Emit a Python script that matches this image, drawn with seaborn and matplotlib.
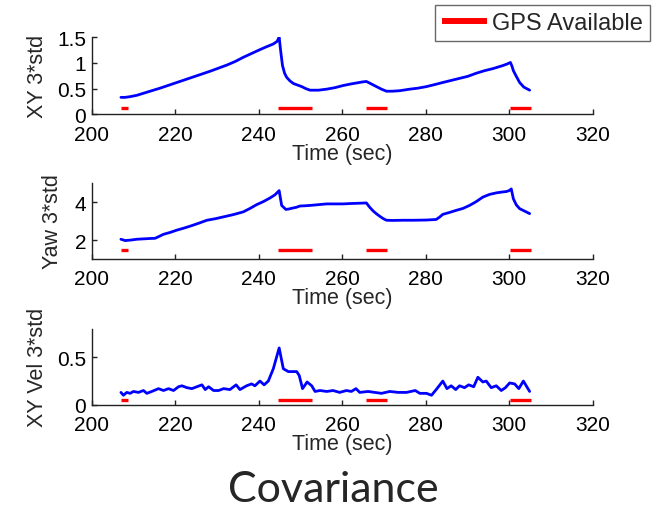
import numpy as np
import pandas as pd
import matplotlib
matplotlib.use("Agg")
import matplotlib.pyplot as plt
import seaborn as sns

# XY position uncertainty (3-sigma) over time
xy_time = [207.0, 208.0, 209.2, 210.8, 212.4, 214.4, 216.4, 218.4, 220.4, 222.4,
           224.4, 226.4, 228.4, 230.4, 232.4, 234.4, 236.3, 238.3, 240.3, 242.0,
           243.5, 244.4, 244.9, 245.3, 245.7, 246.2, 246.7, 247.5, 248.3, 249.3,
           250.3, 251.3, 252.3, 254.3, 256.3, 258.3, 260.2, 262.0, 263.4, 264.8,
           265.8, 267.0, 268.2, 269.4, 270.6, 272.0, 273.8, 276.2, 278.2, 280.2,
           282.2, 284.1, 286.1, 288.1, 290.1, 292.1, 294.1, 296.1, 297.3, 298.5,
           299.5, 300.3, 300.7, 301.0, 301.7, 302.5, 303.5, 304.9]
xy_std = [0.33, 0.33, 0.344, 0.37, 0.41, 0.46, 0.51, 0.565, 0.62, 0.675,
          0.73, 0.785, 0.84, 0.90, 0.96, 1.03, 1.11, 1.185, 1.26, 1.32,
          1.37, 1.42, 1.50, 1.21, 0.95, 0.80, 0.72, 0.65, 0.60, 0.57,
          0.54, 0.50, 0.47, 0.47, 0.49, 0.52, 0.56, 0.59, 0.61, 0.63,
          0.64, 0.59, 0.54, 0.49, 0.45, 0.45, 0.46, 0.49, 0.51, 0.54,
          0.58, 0.62, 0.66, 0.70, 0.74, 0.80, 0.85, 0.89, 0.92, 0.95,
          0.98, 1.01, 0.93, 0.85, 0.74, 0.62, 0.53, 0.47]

# Yaw uncertainty (3-sigma) over time
yaw_time = [207.0, 208.0, 209.5, 210.8, 212.5, 214.0, 215.2, 217.2, 218.8, 220.4,
            222.0, 223.6, 225.6, 227.6, 229.6, 231.6, 233.8, 236.3, 237.9, 239.5,
            241.1, 242.7, 243.9, 244.9, 245.5, 246.5, 247.2, 247.9, 249.0, 249.9,
            251.0, 252.3, 254.3, 256.3, 258.3, 260.2, 262.0, 263.4, 265.8, 266.6,
            267.4, 268.2, 269.0, 269.8, 270.6, 272.0, 274.6, 277.0, 280.0, 282.5,
            283.3, 284.1, 285.7, 287.3, 288.9, 290.5, 292.1, 293.7, 295.3, 296.9,
            298.1, 299.3, 300.0, 300.5, 301.0, 301.7, 302.5, 303.7, 304.9]
yaw_std = [2.04, 1.97, 2.00, 2.04, 2.06, 2.08, 2.09, 2.30, 2.40, 2.52,
           2.62, 2.73, 2.88, 3.04, 3.12, 3.22, 3.33, 3.48, 3.66, 3.86,
           4.02, 4.21, 4.38, 4.60, 3.82, 3.61, 3.63, 3.67, 3.72, 3.79,
           3.80, 3.82, 3.86, 3.90, 3.90, 3.90, 3.92, 3.93, 3.95, 3.72,
           3.53, 3.38, 3.25, 3.13, 3.04, 3.03, 3.04, 3.04, 3.05, 3.08,
           3.20, 3.35, 3.45, 3.56, 3.66, 3.82, 4.02, 4.26, 4.40, 4.48,
           4.52, 4.55, 4.60, 4.69, 4.17, 3.85, 3.65, 3.52, 3.39]

# XY velocity uncertainty (3-sigma) over time
vel_time = [207.0, 207.6, 208.4, 209.2, 210.0, 211.2, 212.4, 213.2, 214.4, 216.0,
            217.2, 218.4, 219.6, 220.8, 221.6, 222.8, 224.0, 225.2, 226.4, 227.2,
            228.0, 229.2, 230.4, 231.6, 233.1, 234.6, 235.5, 237.1, 238.3, 239.1,
            240.3, 241.3, 242.3, 243.5, 244.9, 245.9, 247.1, 249.1, 249.7, 250.5,
            251.6, 252.7, 253.5, 254.7, 256.3, 257.8, 259.4, 261.0, 262.2, 263.3,
            264.2, 266.2, 267.8, 269.4, 271.4, 273.4, 275.4, 277.5, 278.6, 280.2,
            281.4, 282.7, 284.1, 285.1, 286.1, 287.2, 288.1, 289.3, 290.3, 291.5,
            292.5, 293.7, 294.5, 295.7, 296.9, 298.1, 299.1, 300.1, 301.3, 302.3,
            303.4, 304.9]
vel_std = [0.13, 0.10, 0.13, 0.12, 0.14, 0.13, 0.15, 0.12, 0.14, 0.17,
           0.15, 0.17, 0.15, 0.19, 0.20, 0.18, 0.17, 0.19, 0.21, 0.16,
           0.19, 0.15, 0.15, 0.17, 0.16, 0.21, 0.16, 0.20, 0.22, 0.20,
           0.25, 0.21, 0.25, 0.38, 0.60, 0.38, 0.35, 0.35, 0.31, 0.17,
           0.24, 0.20, 0.14, 0.15, 0.14, 0.15, 0.13, 0.15, 0.14, 0.17,
           0.13, 0.14, 0.13, 0.12, 0.14, 0.13, 0.13, 0.15, 0.12, 0.12,
           0.10, 0.17, 0.25, 0.17, 0.20, 0.16, 0.20, 0.18, 0.21, 0.19,
           0.29, 0.24, 0.25, 0.18, 0.20, 0.15, 0.18, 0.23, 0.22, 0.17,
           0.25, 0.14]

# Intervals with a GPS fix
gps_start = [206.9, 244.7, 265.8, 300.1]
gps_end = [208.8, 252.7, 270.8, 305.2]

panels = [
    dict(t=xy_time, v=xy_std, label="XY 3*std", ylim=(0, 1.5),
         yticks=[0, 0.5, 1, 1.5], yticklabels=["0", "0.5", "1", "1.5"],
         gps_level=0.12, rect=[0.1381, 0.7739, 0.7545, 0.1510], ylab_x=-0.087),
    dict(t=yaw_time, v=yaw_std, label="Yaw 3*std", ylim=(1, 5),
         yticks=[2, 4], yticklabels=["2", "4"],
         gps_level=1.45, rect=[0.1381, 0.4902, 0.7545, 0.1490], ylab_x=-0.058),
    dict(t=vel_time, v=vel_std, label="XY Vel 3*std", ylim=(0, 0.8),
         yticks=[0, 0.5], yticklabels=["0", "0.5"],
         gps_level=0.05, rect=[0.1381, 0.2045, 0.7545, 0.1484], ylab_x=-0.087),
]

sns.set_style("ticks")
plt.rcParams["font.family"] = ["Liberation Sans", "DejaVu Sans"]

fig = plt.figure(figsize=(6.64, 5.10), dpi=100)
fig.patch.set_facecolor("white")

gps_handle = None
for p in panels:
    ax = fig.add_axes(p["rect"])
    ax.set_facecolor("white")

    seg_df = pd.DataFrame({
        "time": gps_start + gps_end,
        "level": [p["gps_level"]] * (2 * len(gps_start)),
        "seg": list(range(len(gps_start))) * 2,
    })
    sns.lineplot(data=seg_df, x="time", y="level", units="seg", estimator=None,
                 color="#ff0000", linewidth=2.4, ax=ax, legend=False,
                 solid_capstyle="butt")
    if gps_handle is None:
        gps_handle = ax.lines[0]

    sns.lineplot(x=p["t"], y=p["v"], ax=ax, color="#0000ff", linewidth=2.0,
                 estimator=None, sort=False)

    ax.set_xlim(200, 320)
    ax.set_xticks([200, 220, 240, 260, 280, 300, 320])
    ax.set_xticklabels(["200", "220", "240", "260", "280", "300", "320"])
    ax.set_ylim(*p["ylim"])
    ax.set_yticks(p["yticks"])
    ax.set_yticklabels(p["yticklabels"])

    for side in ("top", "right"):
        ax.spines[side].set_visible(False)
    for side in ("left", "bottom"):
        ax.spines[side].set_color("#222222")
        ax.spines[side].set_linewidth(1.0)
    ax.tick_params(axis="both", direction="in", length=3.5, width=1.0,
                   labelsize=15, colors="#222222", labelcolor="black")
    ax.tick_params(axis="x", pad=7.5)
    ax.tick_params(axis="y", pad=4)

    ax.set_xlabel("Time (sec)", fontsize=15.5)
    ax.set_ylabel(p["label"], fontsize=15.5)
    ax.yaxis.set_label_coords(p["ylab_x"], 0.5)
    ax.xaxis.set_label_coords(0.5, -0.37)
    ax.xaxis.label.set_va("top")

leg = fig.legend([gps_handle], ["GPS Available"], loc="upper right",
                 bbox_to_anchor=(650 / 664, 1 - 6 / 510), frameon=True,
                 fancybox=False, edgecolor="#444444", fontsize=17,
                 handlelength=1.9, handletextpad=0.2, borderpad=0.3,
                 borderaxespad=0.0)
leg.get_frame().set_linewidth(1.0)
for h in leg.legend_handles:
    h.set_linewidth(4.3)

fig.text(0.502, 0.04, "Covariance", ha="center", va="center",
         fontsize=31, family=["Lato", "DejaVu Sans"])

fig.savefig("out.png", dpi=100, facecolor="white")
